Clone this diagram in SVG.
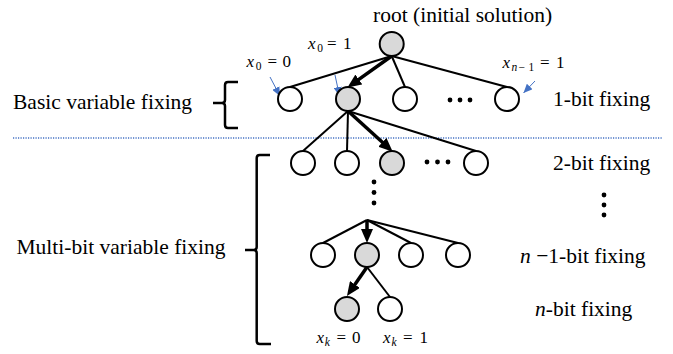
<svg xmlns="http://www.w3.org/2000/svg" width="673" height="354" viewBox="0 0 673 354">
<style>
.lbl{font-family:"Liberation Serif","DejaVu Serif",serif;font-size:21.5px;fill:#000}
.m{font-family:"Liberation Serif","DejaVu Serif",serif;font-size:17px;fill:#000}
.it{font-style:italic}
.sub{font-size:11.5px}
.n{stroke:#000;stroke-width:2;fill:#fff}
.g{stroke:#000;stroke-width:2;fill:#d9d9d9}
.e{stroke:#000;stroke-width:2;fill:none}
.t{stroke:#000;stroke-width:3.5;fill:none;marker-end:url(#ah)}
.b{stroke:#4472c4;stroke-width:1;fill:none;marker-end:url(#bh)}
.br{stroke:#000;stroke-width:2.5;fill:none}
.dot{fill:#000}
</style>
<defs>
<marker id="ah" markerUnits="userSpaceOnUse" markerWidth="14" markerHeight="12" refX="3" refY="6" orient="auto">
<path d="M0,0 L14,6 L0,12 z" fill="#000"/>
</marker>
<marker id="bh" markerUnits="userSpaceOnUse" markerWidth="9" markerHeight="8" refX="9" refY="4" orient="auto">
<path d="M0,0 L9,4 L0,8 z" fill="#4472c4"/>
</marker>
</defs>

<g id="separator">
<line x1="13" y1="138" x2="663" y2="138" stroke="#4472c4" stroke-width="1.3" stroke-dasharray="1.2 1.3"/>
</g>

<g id="connectors">
<line class="e" x1="391.7" y1="56" x2="290" y2="87"/>
<line class="e" x1="391.7" y1="56" x2="405" y2="87"/>
<line class="e" x1="391.7" y1="56" x2="507" y2="87"/>
<line class="t" x1="391.7" y1="56" x2="356.4" y2="81.2"/>
<line class="e" x1="348" y1="111" x2="303" y2="151"/>
<line class="e" x1="348" y1="111" x2="347" y2="151"/>
<line class="e" x1="348" y1="111" x2="476" y2="151"/>
<line class="t" x1="348" y1="111" x2="384.6" y2="144.3"/>
<line class="e" x1="367" y1="220" x2="323" y2="243"/>
<line class="e" x1="367" y1="220" x2="411" y2="243"/>
<line class="e" x1="367" y1="220" x2="458" y2="243"/>
<line class="t" x1="367" y1="220" x2="367" y2="232"/>
<line class="e" x1="367" y1="267" x2="390" y2="297"/>
<line class="t" x1="367" y1="267" x2="353.2" y2="287"/>
<line class="b" x1="270" y1="77" x2="280" y2="96"/>
<line class="b" x1="335" y1="75" x2="339.5" y2="96"/>
<line class="b" x1="535" y1="81" x2="523.5" y2="93"/>
</g>

<g id="root"><circle class="g" cx="391.7" cy="44" r="12"/></g>
<g id="l1n1"><circle class="n" cx="290" cy="99" r="12"/></g>
<g id="l1n2"><circle class="g" cx="348" cy="99" r="12"/></g>
<g id="l1n3"><circle class="n" cx="405" cy="99" r="12"/></g>
<g id="l1n4"><circle class="n" cx="507" cy="99" r="12"/></g>
<g id="l2n1"><circle class="n" cx="303" cy="163" r="12"/></g>
<g id="l2n2"><circle class="n" cx="347" cy="163" r="12"/></g>
<g id="l2n3"><circle class="g" cx="392" cy="163" r="12"/></g>
<g id="l2n4"><circle class="n" cx="476" cy="163" r="12"/></g>
<g id="l3n1"><circle class="n" cx="323" cy="255" r="12"/></g>
<g id="l3n2"><circle class="g" cx="367" cy="255" r="12"/></g>
<g id="l3n3"><circle class="n" cx="411" cy="255" r="12"/></g>
<g id="l3n4"><circle class="n" cx="458" cy="255" r="12"/></g>
<g id="l4n1"><circle class="g" cx="347" cy="309" r="12"/></g>
<g id="l4n2"><circle class="n" cx="390" cy="309" r="12"/></g>

<g id="ellipses">
<circle class="dot" cx="450" cy="100" r="2.4"/>
<circle class="dot" cx="460" cy="100" r="2.4"/>
<circle class="dot" cx="470" cy="100" r="2.4"/>
<circle class="dot" cx="427" cy="162" r="2.4"/>
<circle class="dot" cx="437.5" cy="162" r="2.4"/>
<circle class="dot" cx="448" cy="162" r="2.4"/>
<circle class="dot" cx="374" cy="182" r="2.4"/>
<circle class="dot" cx="374" cy="192.5" r="2.4"/>
<circle class="dot" cx="374" cy="203" r="2.4"/>
<circle class="dot" cx="604" cy="195" r="2.4"/>
<circle class="dot" cx="604" cy="205" r="2.4"/>
<circle class="dot" cx="604" cy="215" r="2.4"/>
</g>

<g id="braces">
<path class="br" d="M238,82 L228,82 Q225,82 225,85 L225,100 Q225,103 222,103 L213,103 M222,103 Q225,103 225,106 L225,125 Q225,128 228,128 L238,128"/>
<path class="br" d="M270,155 L259.7,155 Q256.7,155 256.7,158 L256.7,247 Q256.7,250 253.7,250 L245,250 M253.7,250 Q256.7,250 256.7,253 L256.7,341 Q256.7,344 259.7,344 L271,344"/>
</g>

<g id="labels">
<text class="lbl" x="373" y="22">root (initial solution)</text>
<text class="lbl" x="13" y="109">Basic variable fixing</text>
<text class="lbl" x="16.5" y="254">Multi-bit variable fixing</text>
<text class="lbl" x="553" y="106">1-bit fixing</text>
<text class="lbl" x="553" y="170">2-bit fixing</text>
<text class="lbl" x="520" y="263"><tspan class="it">n</tspan> −1-bit fixing</text>
<text class="lbl" x="535" y="316"><tspan class="it">n</tspan>-bit fixing</text>
</g>

<g id="math">
<text class="m" y="66.5"><tspan class="it" x="246.5">x</tspan><tspan class="sub" x="255.8" dy="3">0</tspan><tspan x="267.5" dy="-3">=</tspan><tspan x="282.5">0</tspan></text>
<text class="m" y="49"><tspan class="it" x="308">x</tspan><tspan class="sub" x="317.2" dy="3">0</tspan><tspan x="327" dy="-3">=</tspan><tspan x="343">1</tspan></text>
<text class="m" y="68"><tspan class="it" x="502.5">x</tspan><tspan class="sub it" x="511.5" dy="3">n</tspan><tspan class="sub" x="518.5">−</tspan><tspan class="sub" x="528.5">1</tspan><tspan x="540" dy="-3">=</tspan><tspan x="556">1</tspan></text>
<text class="m" y="342.5"><tspan class="it" x="316.5">x</tspan><tspan class="sub it" x="324.8" dy="3">k</tspan><tspan x="336.5" dy="-3">=</tspan><tspan x="352">0</tspan></text>
<text class="m" y="342.5"><tspan class="it" x="383">x</tspan><tspan class="sub it" x="391.5" dy="3">k</tspan><tspan x="403" dy="-3">=</tspan><tspan x="419.5">1</tspan></text>
</g>
</svg>
